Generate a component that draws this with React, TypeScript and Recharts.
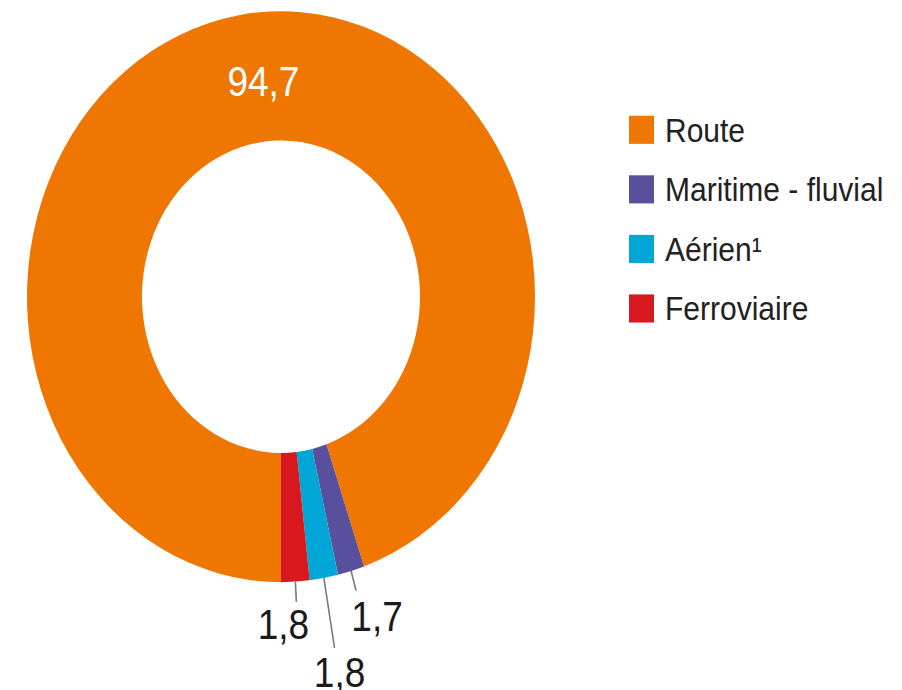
import React from 'react';
import { PieChart, Pie, Cell, Legend } from 'recharts';

const categories = ['Route', 'Maritime - fluvial', 'Aérien¹', 'Ferroviaire'];
const values = [94.7, 1.7, 1.8, 1.8];
const valueLabels = ['94,7', '1,7', '1,8', '1,8'];

const COLORS = ['#EF7600', '#58509C', '#00A7D6', '#D9171E'];

// label styling per slice: leader line length and label offset from line end
const LABEL_STYLE = [
  { inside: true, dx: 15, dy: 2, line: 0 },
  { inside: false, dx: 21, dy: 23, line: 18 },
  { inside: false, dx: 5, dy: 22, line: 63 },
  { inside: false, dx: -13, dy: 20, line: 18 },
];

const data = categories.map((name, i) => ({ name, value: values[i], label: valueLabels[i] }));

const W = 902;
const SCALE_Y = 1.1238;
const H = Math.round(690 / SCALE_Y);
const RADIAN = Math.PI / 180;

const renderLabel = (props: any) => {
  const { cx, cy, midAngle, innerRadius, outerRadius, index } = props;
  const st = LABEL_STYLE[index];
  const cos = Math.cos(-midAngle * RADIAN);
  const sin = Math.sin(-midAngle * RADIAN);
  if (st.inside) {
    const r = (innerRadius + outerRadius) / 2;
    const x = cx + r * cos + st.dx;
    const y = cy + r * sin + st.dy;
    return (
      <text x={x} y={y} fill="#fff" fontSize={37} fontFamily="Liberation Sans, Arial, sans-serif" textAnchor="middle" dominantBaseline="central">
        {data[index].label}
      </text>
    );
  }
  const x1 = cx + outerRadius * cos;
  const y1 = cy + outerRadius * sin;
  const x2 = cx + (outerRadius + st.line) * cos;
  const y2 = cy + (outerRadius + st.line) * sin;
  return (
    <g>
      <line x1={x1} y1={y1} x2={x2} y2={y2} stroke="#7a7a7a" strokeWidth={1.6} />
      <text x={x2 + st.dx} y={y2 + st.dy} fill="#1a1a1a" fontSize={37} fontFamily="Liberation Sans, Arial, sans-serif" textAnchor="middle" dominantBaseline="central">
        {data[index].label}
      </text>
    </g>
  );
};

const renderLegend = () => (
  <div style={{ fontFamily: 'Liberation Sans, Arial, sans-serif' }}>
    {categories.map((name, i) => (
      <div key={name} style={{ display: 'flex', alignItems: 'center', height: 53 }}>
        <div style={{ width: 25, height: 25, background: COLORS[i], marginRight: 11, flexShrink: 0 }} />
        <span style={{ fontSize: 30, lineHeight: '53px', color: '#222', whiteSpace: 'nowrap' }}>{name}</span>
      </div>
    ))}
  </div>
);

export default function App() {
  return (
    <div style={{ position: 'absolute', left: 0, top: 0, width: W, height: H, transform: `scaleY(${SCALE_Y})`, transformOrigin: '0 0', background: '#fff' }}>
      <PieChart width={W} height={H} margin={{ top: 0, right: 0, bottom: 0, left: 0 }}>
        <Pie
          data={data}
          dataKey="value"
          nameKey="name"
          cx={281}
          cy={264}
          innerRadius={139}
          outerRadius={254}
          startAngle={270}
          endAngle={-90}
          stroke="none"
          label={renderLabel}
          labelLine={false}
          isAnimationActive={false}
        >
          {data.map((d, i) => (
            <Cell key={d.name} fill={COLORS[i]} />
          ))}
        </Pie>
        <Legend
          layout="vertical"
          align="right"
          verticalAlign="middle"
          content={renderLegend}
          wrapperStyle={{ position: 'absolute', left: 629, top: 89, width: 273, right: 'auto', bottom: 'auto' }}
        />
      </PieChart>
    </div>
  );
}
